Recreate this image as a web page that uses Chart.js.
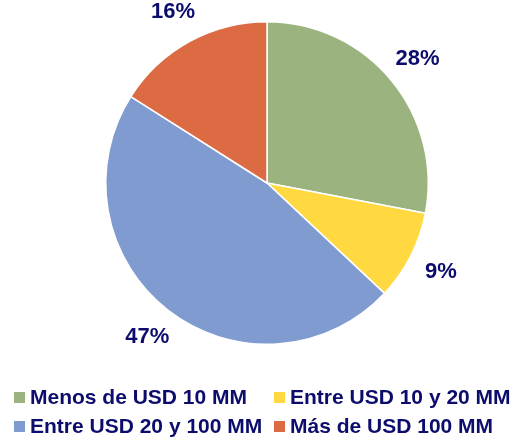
<!DOCTYPE html>
<html>
<head>
<meta charset="utf-8">
<script src="https://cdn.jsdelivr.net/npm/chart.js@4"></script>
<style>
  html, body { margin: 0; padding: 0; background: #fff; }
  #wrap { position: relative; width: 531px; height: 441px; }
  #legend { position: absolute; left: 0; top: 0; width: 531px; height: 441px; pointer-events: none;
            font: bold 21px "Liberation Sans", Arial, sans-serif; color: #0c0c6c; }
  .item { position: absolute; white-space: nowrap; line-height: 24px; }
  .item span.box { position: absolute; left: 0; top: 7px; width: 11px; height: 11px; }
  .item span.txt { position: absolute; left: 16px; top: 0; }
</style>
</head>
<body>
<div id="wrap">
  <canvas id="pie" width="531" height="441"></canvas>
  <div id="legend"></div>
</div>
<script>
const categories = [
  "Menos de USD 10 MM",
  "Entre USD 10 y 20 MM",
  "Entre USD 20 y 100 MM",
  "Más de USD 100 MM"
];
const shares = [28, 9, 47, 16];
const colors = ["#9bb47f", "#ffd93f", "#7f9bcf", "#dc6a43"];

const labelColor = "#0c0c6c";

// percentages drawn just outside each slice
const outsideLabels = {
  id: "outsideLabels",
  afterDatasetsDraw(chart) {
    const ctx = chart.ctx;
    const arcs = chart.getDatasetMeta(0).data;
    ctx.save();
    ctx.font = "bold 22px 'Liberation Sans', Arial, sans-serif";
    ctx.fillStyle = labelColor;
    ctx.textAlign = "center";
    ctx.textBaseline = "middle";
    arcs.forEach((arc, i) => {
      const p = arc.getProps(["x", "y", "startAngle", "endAngle", "outerRadius"], true);
      const mid = (p.startAngle + p.endAngle) / 2;
      const r = p.outerRadius + 34;
      ctx.fillText(shares[i] + "%", p.x + Math.cos(mid) * r, p.y + Math.sin(mid) * r);
    });
    ctx.restore();
  }
};

new Chart(document.getElementById("pie"), {
  type: "pie",
  data: {
    labels: categories,
    datasets: [{
      data: shares,
      backgroundColor: colors,
      borderColor: "#ffffff",
      borderWidth: 1.5
    }]
  },
  options: {
    responsive: false,
    animation: false,
    layout: { padding: { top: 21, bottom: 96, left: 105, right: 102 } },
    plugins: {
      legend: { display: false },
      tooltip: { enabled: false }
    }
  },
  plugins: [outsideLabels]
});

// two-column legend under the pie
const legendPos = [[14, 385], [274, 385], [14, 414], [274, 414]];
const legend = document.getElementById("legend");
categories.forEach((name, i) => {
  const el = document.createElement("div");
  el.className = "item";
  el.style.left = legendPos[i][0] + "px";
  el.style.top = legendPos[i][1] + "px";
  el.innerHTML = `<span class="box" style="background:${colors[i]}"></span><span class="txt">${name}</span>`;
  legend.appendChild(el);
});
</script>
</body>
</html>
